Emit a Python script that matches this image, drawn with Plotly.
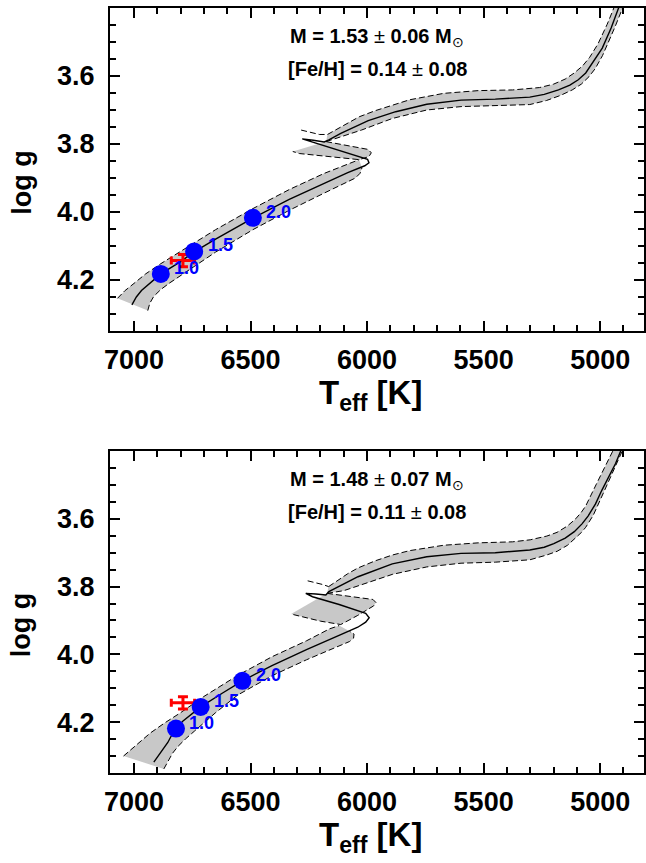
import plotly.graph_objects as go

# ---------------- data ----------------
TEFF_TICKS = [7000, 6500, 6000, 5500, 5000]
TEFF_TICK_LABELS = ["7000", "6500", "6000", "5500", "5000"]
LOGG_TICKS = [3.6, 3.8, 4.0, 4.2]
LOGG_TICK_LABELS = ["3.6", "3.8", "4.0", "4.2"]
AGES = [1.0, 1.5, 2.0]          # Gyr age markers

STAR_TEFF, STAR_TEFF_ERR = 6790, 50
STAR_LOGG, STAR_LOGG_ERR = 4.143, 0.018

TOP_MASS, TOP_MASS_ERR, TOP_FEH, TOP_FEH_ERR = "1.53", "0.06", "0.14", "0.08"
BOT_MASS, BOT_MASS_ERR, BOT_FEH, BOT_FEH_ERR = "1.48", "0.07", "0.11", "0.08"

# --- top panel track (Teff, log g)
TOP_CENTER = [(7009,4.273),(6990,4.250),(6968,4.231),(6923,4.203),(6885,4.182),(6800,4.146),
              (6742,4.117),(6650,4.080),(6490,4.018),(6334,3.963),(6186,3.915),(6083,3.884),
              (6010,3.864),(5992,3.855),(5998,3.845),(6113,3.820),(6201,3.800),(6278,3.785),
              (6231,3.789),(6184,3.794),(6164,3.788),(6113,3.769),(5995,3.731),(5877,3.705),
              (5744,3.683),(5597,3.671),(5450,3.668),(5302,3.662),(5240,3.654),(5179,3.641),
              (5130,3.627),(5094,3.611),(5062,3.591),(5035,3.564),(4991,3.518),(4953,3.459),
              (4919,3.397),(4913,3.385)]
TOP_AGE_TEFF = [6885, 6742, 6490]
TOP_AGE_LOGG = [4.182, 4.116, 4.017]
TOP_MS_UPPER = [(7071,4.254),(7040,4.232),(7000,4.210),(6950,4.182),(6885,4.152),(6800,4.116),
                (6742,4.090),(6650,4.052),(6490,3.990),(6334,3.934),(6186,3.887),(6113,3.868),
                (6060,3.853),(6034,3.846)]
TOP_MS_LOWER = [(6941,4.290),(6932,4.268),(6915,4.248),(6885,4.228),(6850,4.210),(6742,4.160),
                (6650,4.118),(6490,4.052),(6334,3.995),(6186,3.945),(6083,3.912),(6050,3.900),
                (6030,3.886),(6022,3.870)]
TOP_HOOK = [(6176,3.793),(6080,3.805),(5995,3.816),(5982,3.826),(5992,3.837),(6034,3.846),
            (6150,3.838),(6291,3.828),(6319,3.822)]
TOP_SG_STUB = [(6283,3.759),(6240,3.765),(6205,3.772),(6170,3.772)]
TOP_SG_UPPER = [(6170,3.772),(6120,3.752),(6083,3.739),(6034,3.720),(5965,3.702),(5818,3.670),
                (5671,3.651),(5523,3.643),(5376,3.641),(5260,3.634),(5200,3.624),(5150,3.609),
                (5111,3.591),(5075,3.570),(5045,3.545),(5009,3.505),(4970,3.448),(4936,3.391)]
TOP_SG_LOWER = [(6176,3.793),(6120,3.780),(6024,3.759),(5892,3.725),(5744,3.700),(5597,3.690),
                (5450,3.688),(5302,3.684),(5230,3.672),(5170,3.657),(5120,3.641),(5081,3.624),
                (5048,3.602),(5021,3.578),(4990,3.540),(4960,3.495),(4936,3.455),(4902,3.397),
                (4898,3.390)]

# --- bottom panel track
BOT_CENTER = [(6915,4.318),(6895,4.298),(6875,4.280),(6855,4.260),(6842,4.243),(6820,4.219),
              (6791,4.197),(6714,4.155),(6620,4.114),(6535,4.078),(6408,4.033),(6260,3.986),
              (6113,3.942),(6040,3.920),(6006,3.905),(5991,3.892),(6006,3.879),(6120,3.853),
              (6234,3.830),(6263,3.820),(6220,3.822),(6177,3.825),(6164,3.815),(6100,3.792),
              (6039,3.771),(5892,3.733),(5744,3.712),(5597,3.702),(5450,3.700),(5302,3.692),
              (5240,3.684),(5199,3.673),(5150,3.657),(5111,3.638),(5078,3.615),(5052,3.592),
              (5020,3.556),(4993,3.516),(4934,3.437),(4912,3.400),(4905,3.385)]
BOT_AGE_TEFF = [6820, 6714, 6535]
BOT_AGE_LOGG = [4.219, 4.155, 4.078]
BOT_MS_UPPER = [(7045,4.300),(7010,4.280),(6975,4.258),(6930,4.232),(6870,4.203),(6800,4.172),
                (6702,4.125),(6555,4.062),(6408,4.007),(6260,3.960),(6162,3.925),(6120,3.915)]
BOT_MS_LOWER = [(6872,4.338),(6855,4.315),(6835,4.292),(6812,4.272),(6780,4.250),(6740,4.226),
                (6700,4.201),(6650,4.172),(6555,4.120),(6408,4.063),(6260,4.016),(6113,3.972),
                (6075,3.962),(6058,3.952),(6056,3.940),(6075,3.932)]
BOT_HOOK = [(6172,3.820),(6060,3.830),(5975,3.838),(5962,3.847),(5972,3.857),(6040,3.885),
            (6113,3.912),(6200,3.902),(6275,3.890),(6326,3.881)]
BOT_SG_STUB = [(6255,3.783),(6220,3.788),(6190,3.794),(6165,3.800)]
BOT_SG_UPPER = [(6165,3.800),(6120,3.779),(6083,3.762),(6039,3.745),(5965,3.724),(5892,3.707),
                (5818,3.694),(5671,3.678),(5523,3.671),(5376,3.668),(5300,3.662),(5229,3.651),
                (5185,3.640),(5140,3.621),(5105,3.600),(5080,3.580),(5062,3.562),(5018,3.500),
                (4968,3.430),(4935,3.385)]
BOT_SG_LOWER = [(6172,3.820),(6100,3.812),(6039,3.798),(5965,3.781),(5892,3.764),(5744,3.742),
                (5597,3.731),(5450,3.728),(5302,3.721),(5230,3.707),(5185,3.696),(5140,3.678),
                (5105,3.657),(5080,3.640),(5062,3.625),(5030,3.590),(4985,3.522),(4930,3.437),
                (4900,3.392)]

# ---------------- styling / layout ----------------
FONT = "Liberation Sans"
W, H = 646, 863
L_PX, R_PX = 110, 646
PANELS_PX = [(8, 331), (451, 773)]      # (top, bottom) pixel rows of each plot frame
XRANGE = [7103, 4812]
YRANGE = [4.35, 3.4]
GRAY = "#c8c8c8"
DASH = "6px,3px"


def xs(a):
    return [p[0] for p in a]


def ys(a):
    return [p[1] for p in a]


def px_x(x):
    return (x - L_PX) / (R_PX - L_PX)


def px_y(y):
    return (H - y) / H


fig = go.Figure()

panels = [
    dict(center=TOP_CENTER, age_t=TOP_AGE_TEFF, age_g=TOP_AGE_LOGG, ms_u=TOP_MS_UPPER,
         ms_l=TOP_MS_LOWER, hook=TOP_HOOK, stub=TOP_SG_STUB, sg_u=TOP_SG_UPPER, sg_l=TOP_SG_LOWER,
         mass=TOP_MASS, mass_e=TOP_MASS_ERR, feh=TOP_FEH, feh_e=TOP_FEH_ERR),
    dict(center=BOT_CENTER, age_t=BOT_AGE_TEFF, age_g=BOT_AGE_LOGG, ms_u=BOT_MS_UPPER,
         ms_l=BOT_MS_LOWER, hook=BOT_HOOK, stub=BOT_SG_STUB, sg_u=BOT_SG_UPPER, sg_l=BOT_SG_LOWER,
         mass=BOT_MASS, mass_e=BOT_MASS_ERR, feh=BOT_FEH, feh_e=BOT_FEH_ERR),
]

annotations = []
for i, p in enumerate(panels):
    xa = "x" if i == 0 else "x2"
    ya = "y" if i == 0 else "y2"
    kw = dict(xaxis=xa, yaxis=ya, showlegend=False, hoverinfo="skip")

    # gray bands
    for poly in (p["ms_u"] + p["ms_l"][::-1], p["hook"], p["sg_u"] + p["sg_l"][::-1]):
        fig.add_trace(go.Scatter(x=xs(poly), y=ys(poly), mode="lines", fill="toself",
                                 fillcolor=GRAY, line=dict(width=0, color=GRAY), **kw))
    # dashed edges
    for edge in (p["ms_u"], p["ms_l"], p["hook"], p["stub"], p["sg_u"], p["sg_l"]):
        fig.add_trace(go.Scatter(x=xs(edge), y=ys(edge), mode="lines",
                                 line=dict(color="black", width=1, dash=DASH), **kw))
    # central track
    fig.add_trace(go.Scatter(x=xs(p["center"]), y=ys(p["center"]), mode="lines",
                             line=dict(color="black", width=1.4), **kw))
    # spectroscopic star
    fig.add_trace(go.Scatter(x=[STAR_TEFF], y=[STAR_LOGG], mode="markers",
                             marker=dict(size=3, color="red"),
                             error_x=dict(type="data", array=[STAR_TEFF_ERR], color="red",
                                          thickness=3, width=4),
                             error_y=dict(type="data", array=[STAR_LOGG_ERR], color="red",
                                          thickness=3, width=5), **kw))
    # age markers
    fig.add_trace(go.Scatter(x=p["age_t"], y=p["age_g"], mode="markers",
                             marker=dict(size=18, color="#0000ff"), **kw))
    for t, g, a in zip(p["age_t"], p["age_g"], AGES):
        annotations.append(dict(x=t, y=g, xref=xa, yref=ya, text=f"<b>{a:.1f}</b>",
                                showarrow=False, xshift=26, yshift=6,
                                font=dict(family=FONT, size=18, color="#0000ff")))

    top_px, bot_px = PANELS_PX[i]
    # parameter text
    annotations.append(dict(x=0.5, y=px_y(top_px + 29), xref="paper", yref="paper",
                            text=f"<b>M = {p['mass']} </b>±<b> {p['mass_e']} M</b><sub>⊙</sub>",
                            showarrow=False, xanchor="center", yanchor="middle",
                            font=dict(family=FONT, size=20, color="black")))
    annotations.append(dict(x=0.5, y=px_y(top_px + 61), xref="paper", yref="paper",
                            text=f"<b>[Fe/H] = {p['feh']} </b>±<b> {p['feh_e']}</b>",
                            showarrow=False, xanchor="center", yanchor="middle",
                            font=dict(family=FONT, size=20, color="black")))
    # axis titles
    annotations.append(dict(x=px_x(21), y=px_y((top_px + bot_px) / 2 + 13), xref="paper",
                            yref="paper", text="<b>log g</b>", textangle=-90, showarrow=False,
                            xanchor="center", yanchor="middle",
                            font=dict(family=FONT, size=27, color="black")))
    annotations.append(dict(x=px_x(371), y=px_y(bot_px + 64), xref="paper", yref="paper",
                            text="<b>T<sub>eff</sub> [K]</b>", showarrow=False,
                            xanchor="center", yanchor="middle",
                            font=dict(family=FONT, size=33, color="black")))

axis_common = dict(showline=True, linewidth=2, linecolor="black", mirror="allticks",
                   ticks="inside", ticklen=10, tickwidth=2, tickcolor="black",
                   showgrid=False, zeroline=False,
                   tickfont=dict(family=FONT, size=27, color="black", weight="bold"))


def xaxis(anchor):
    return dict(axis_common, range=XRANGE, domain=[0, 1], anchor=anchor,
                tickmode="array", tickvals=TEFF_TICKS, ticktext=TEFF_TICK_LABELS,
                ticklabelstandoff=4,
                minor=dict(tick0=5000, dtick=100, ticks="inside", ticklen=6, tickwidth=2,
                           tickcolor="black", showgrid=False))


def yaxis(anchor, i):
    t, b = PANELS_PX[i]
    return dict(axis_common, range=YRANGE, domain=[px_y(b), px_y(t)], anchor=anchor,
                tickmode="array", tickvals=LOGG_TICKS, ticktext=LOGG_TICK_LABELS,
                ticklabelstandoff=8,
                minor=dict(tick0=3.4, dtick=0.05, ticks="inside", ticklen=6, tickwidth=2,
                           tickcolor="black", showgrid=False))


fig.update_layout(
    width=W, height=H,
    margin=dict(l=L_PX, r=W - R_PX, t=0, b=0, pad=0),
    paper_bgcolor="white", plot_bgcolor="white",
    xaxis=xaxis("y"), yaxis=yaxis("x", 0),
    xaxis2=xaxis("y2"), yaxis2=yaxis("x2", 1),
    annotations=annotations,
    showlegend=False,
)

fig.write_html("out.html")
